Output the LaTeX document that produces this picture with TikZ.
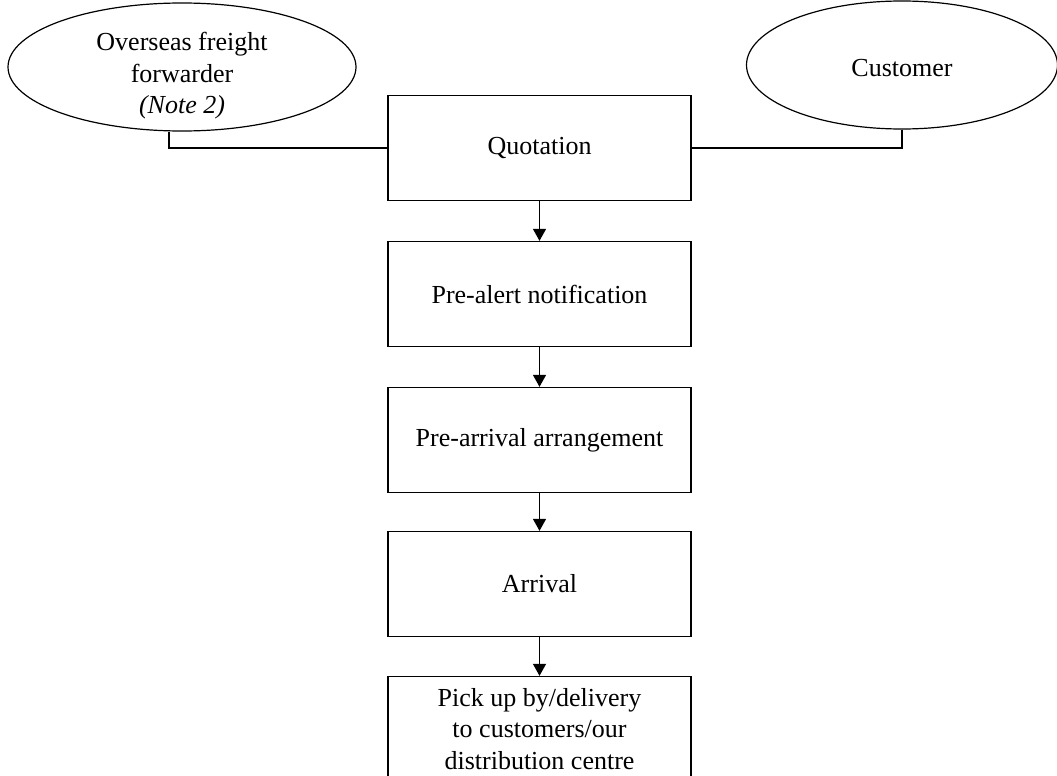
\documentclass[tikz,border=0pt]{standalone}
\usepackage{fontspec}
\setmainfont{Liberation Serif}
\usetikzlibrary{shapes.geometric,arrows.meta,calc}
\begin{document}
\begin{tikzpicture}[x=1pt,y=-1pt,
  every node/.style={font=\fontsize{26}{31.5}\selectfont, align=center, inner sep=0pt},
  oval/.style={draw, ellipse, line width=1.2pt},
  stepbox/.style={draw, rectangle, line width=1.3pt, minimum width=303pt, minimum height=105pt},
  conn/.style={line width=1.3pt},
  flow/.style={line width=1.3pt, -{Triangle[width=13pt,length=12pt]}}]
\useasboundingbox (0,0) rectangle (1057,776);
\clip (0,0) rectangle (1057,776);
\node[oval, minimum width=348pt, minimum height=128pt] (ff) at (182,67) {};
\node (fftext) at (182,76) {Overseas freight\\forwarder\\\textit{(Note 2)}};
\node[oval, minimum width=311pt, minimum height=128pt] (cu) at (902,65) {};
\node (cutext) at (902,68) {Customer};
\node[stepbox] (q) at (539.5,148) {\raisebox{-3pt}{Quotation}};
\node[stepbox] (pa) at (539.5,294) {Pre-alert notification};
\node[stepbox] (pr) at (539.5,440) {Pre-arrival arrangement};
\node[stepbox] (ar) at (539.5,584) {Arrival};
\node[stepbox] (pu) at (539.5,729) {Pick up by/delivery\\to customers/our\\distribution centre};
\coordinate (ffout) at ($(ff.south)+(-13,0)$);
\draw[conn] (ffout) |- (q.west);
\draw[conn] (cu.south) |- (q.east);
\draw[flow] (q.south) -- (pa.north);
\draw[flow] (pa.south) -- (pr.north);
\draw[flow] (pr.south) -- (ar.north);
\draw[flow] (ar.south) -- (pu.north);
\end{tikzpicture}
\end{document}
